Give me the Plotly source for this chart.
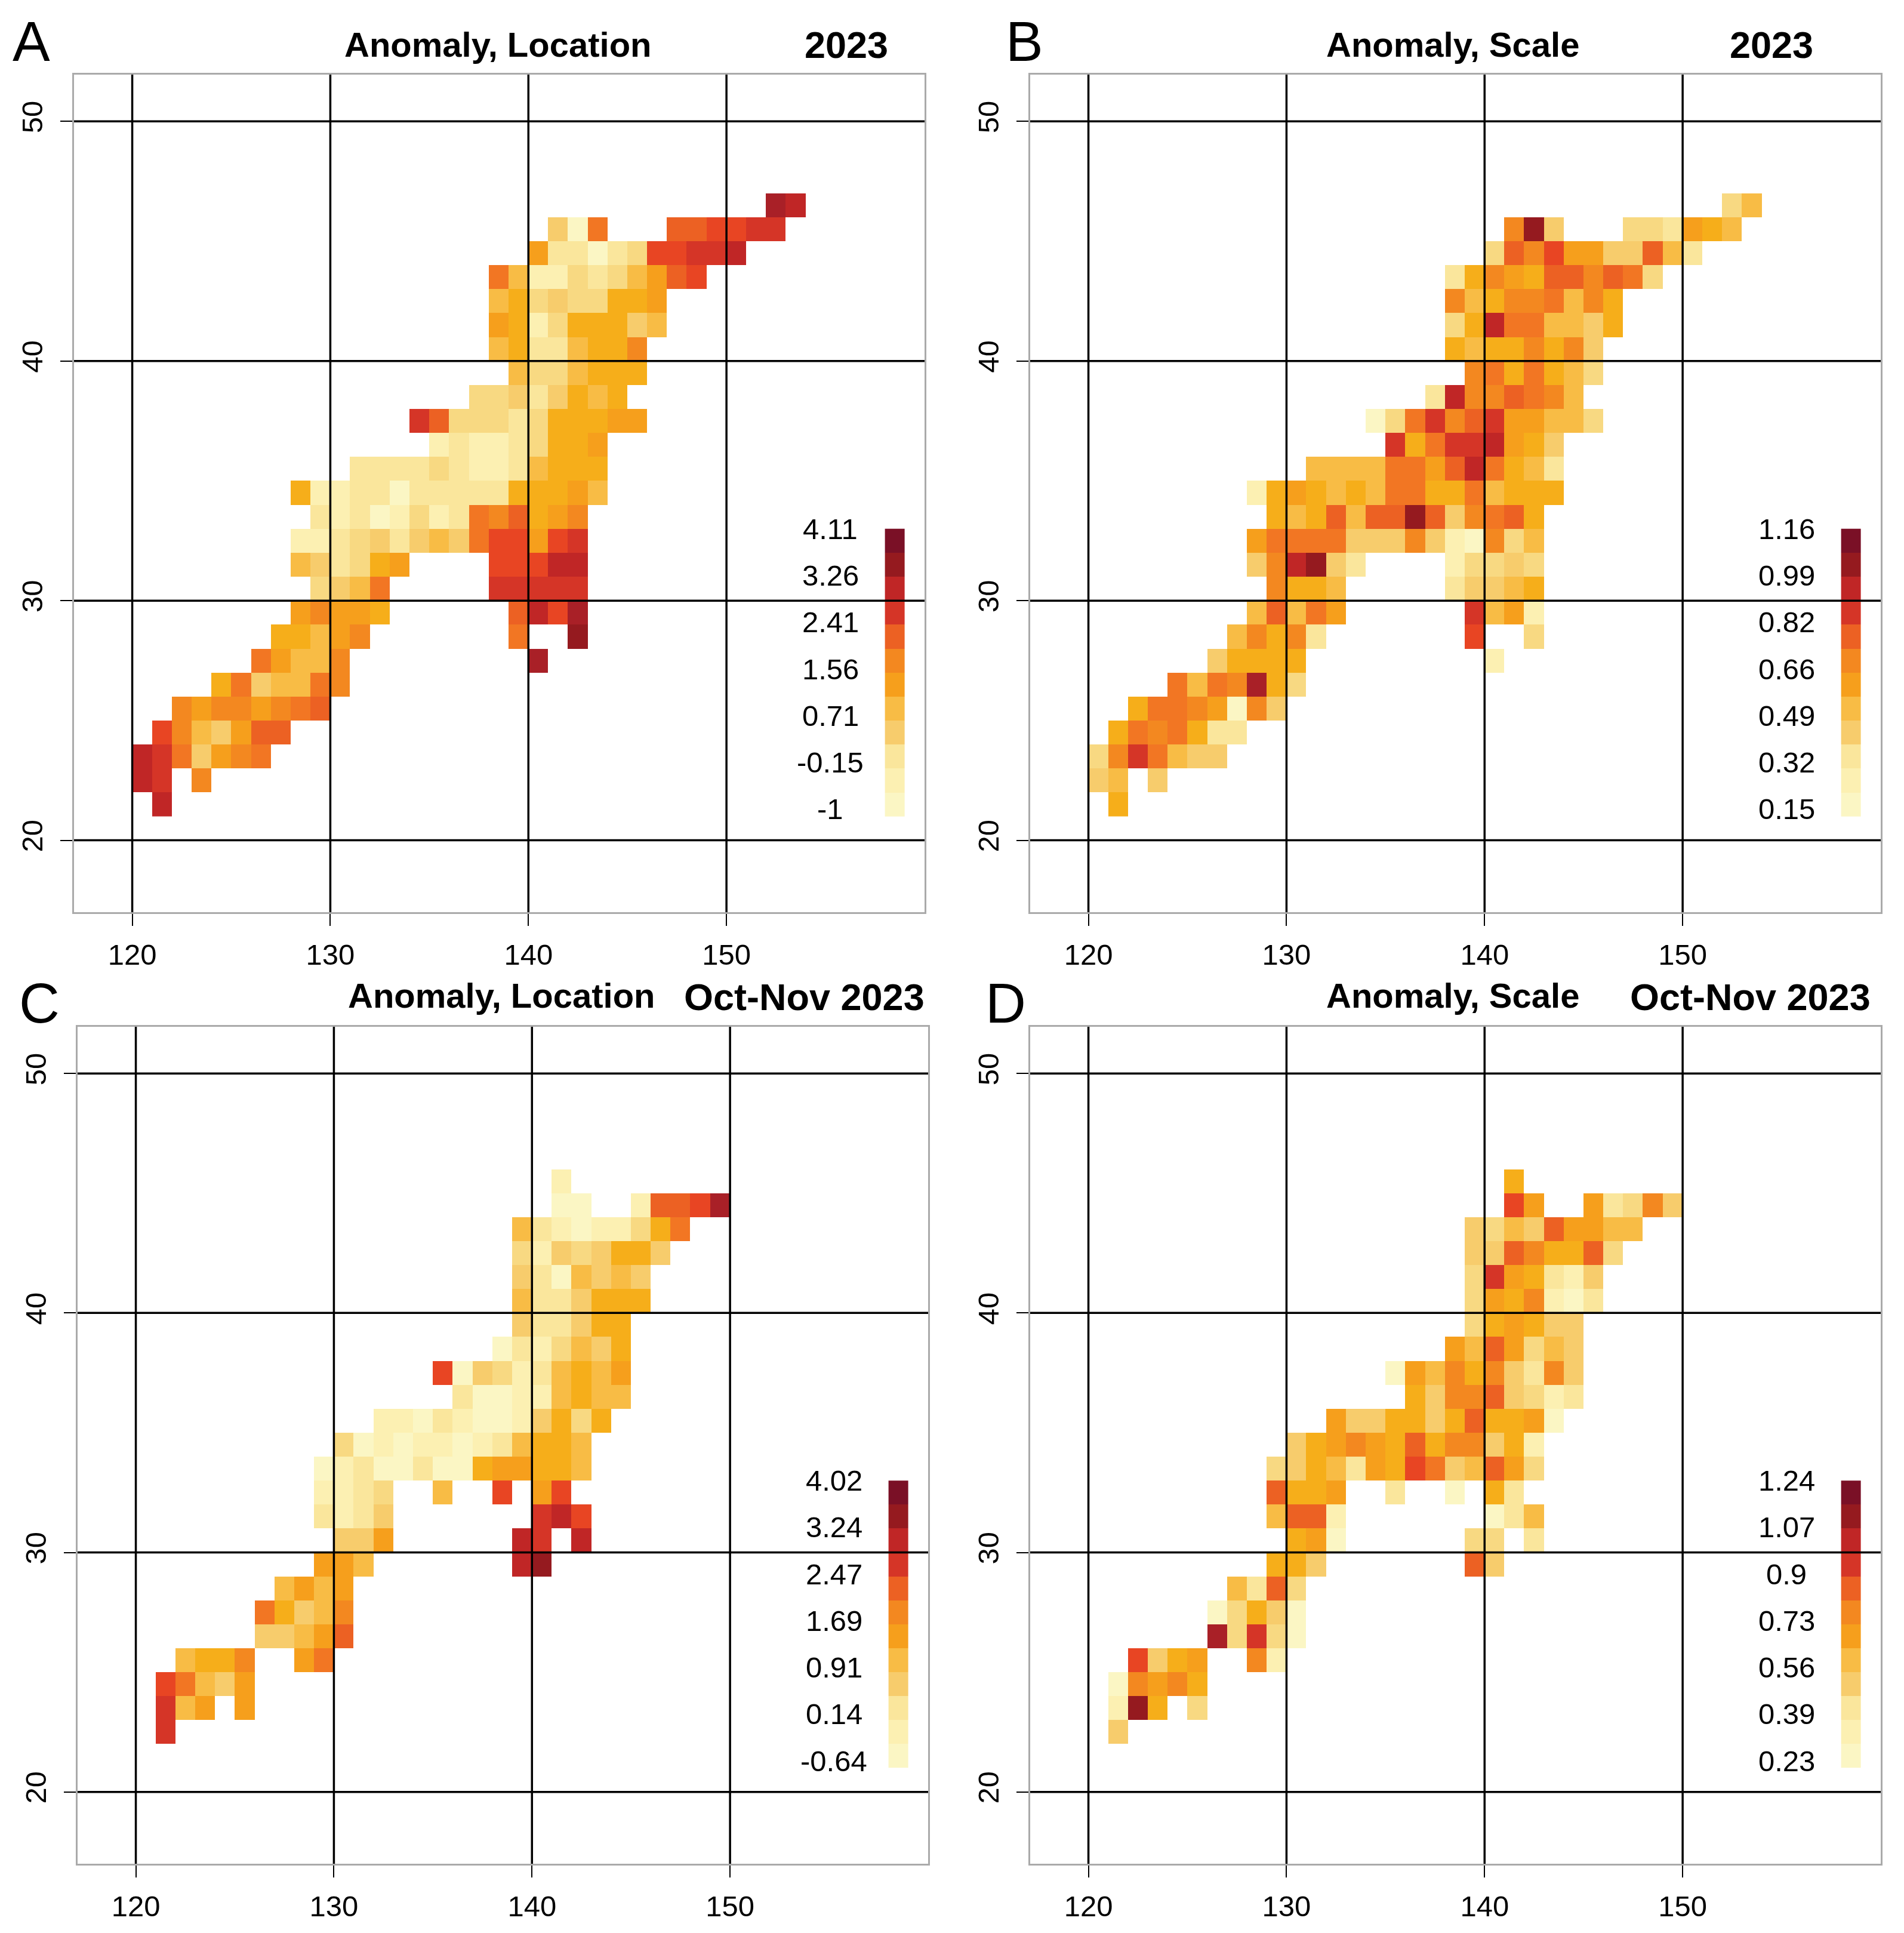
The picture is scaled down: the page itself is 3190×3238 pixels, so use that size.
import plotly.graph_objects as go

W, H = 3190, 3238
FONT = "Liberation Sans"

# colour classes, palest (0) to darkest (16)
class_colors = ["#FBF6C4", "#FCF0B2", "#FAE69C", "#F8D982", "#F7CC6C", "#F8BC45", "#F6AE1A", "#F69F1C", "#F38820",
                "#F27623", "#EC6123", "#E84523", "#D53527", "#C02626", "#A92027", "#951A1F", "#7A1026"]

lon_ticks = [120, 130, 140, 150]
lat_ticks = [20, 30, 40, 50]

# (latitude, first longitude, colour classes of consecutive 1-degree cells)
A_rows = [
    (46, 152, [14, 13]),
    (45, 141, [4, 0, 9]), (45, 147, [10, 10, 11, 11, 12, 12]),
    (44, 140, [7, 2, 2, 0, 2, 3, 11, 11, 12, 12, 13]),
    (43, 138, [9, 5, 1, 1, 3, 2, 3, 5, 7, 10, 11]),
    (42, 138, [5, 6, 3, 4, 3, 3, 6, 6, 7]),
    (41, 138, [7, 6, 1, 3, 6, 6, 6, 4, 5]),
    (40, 138, [5, 6, 2, 2, 5, 6, 6, 8]),
    (39, 139, [5, 3, 3, 5, 6, 6, 6]),
    (38, 137, [3, 3, 4, 2, 4, 6, 5, 6]),
    (37, 134, [12, 10, 3, 3, 3, 2, 3, 6, 6, 6, 7, 7]),
    (36, 135, [1, 2, 1, 1, 2, 3, 6, 6, 7]),
    (35, 131, [2, 2, 2, 2, 3, 2, 1, 1, 2, 5, 6, 6, 6]),
    (34, 128, [6, 1, 1, 2, 2, 0, 2, 2, 2, 2, 2, 6, 6, 6, 7, 5]),
    (33, 129, [2, 1, 2, 0, 1, 3, 1, 2, 9, 8, 10, 6, 7, 8]),
    (32, 128, [1, 1, 2, 3, 4, 2, 4, 5, 4, 9, 11, 11, 7, 11, 12]),
    (31, 128, [5, 4, 2, 3, 6, 7]), (31, 138, [11, 11, 11, 13, 13]),
    (30, 129, [3, 4, 5, 9]), (30, 138, [12, 12, 12, 12, 12]),
    (29, 128, [7, 8, 7, 7, 6]), (29, 139, [10, 13, 11, 14]),
    (28, 127, [6, 6, 5, 7, 8]), (28, 139, [9]), (28, 142, [15]),
    (27, 126, [9, 7, 5, 5, 8]), (27, 140, [14]),
    (26, 124, [6, 9, 4, 5, 5, 9, 8]),
    (25, 122, [8, 7, 8, 8, 7, 8, 9, 10]),
    (24, 121, [11, 8, 5, 4, 7, 10, 10]),
    (23, 120, [13, 12, 9, 4, 7, 8, 9]),
    (22, 120, [13, 12]), (22, 123, [8]),
    (21, 121, [13]),
]
B_rows = [
    (46, 152, [3, 5]),
    (45, 141, [8, 15, 4]), (45, 147, [3, 3, 2, 7, 6, 5]),
    (44, 140, [3, 10, 8, 11, 7, 7, 4, 4, 10, 5, 2]),
    (43, 138, [2, 6, 8, 7, 6, 10, 10, 8, 10, 9, 3]),
    (42, 138, [8, 5, 6, 8, 8, 9, 5, 8, 6]),
    (41, 138, [3, 6, 13, 9, 9, 5, 5, 4, 6]),
    (40, 138, [6, 5, 6, 6, 8, 6, 8, 4]),
    (39, 139, [8, 9, 6, 9, 6, 5, 3]),
    (38, 137, [2, 13, 8, 8, 10, 9, 8, 5]),
    (37, 134, [0, 3, 9, 12, 8, 10, 12, 7, 7, 5, 5, 3]),
    (36, 135, [12, 6, 9, 12, 12, 13, 7, 6, 4]),
    (35, 131, [5, 5, 5, 5, 9, 9, 7, 10, 13, 9, 6, 5, 2]),
    (34, 128, [1, 6, 7, 6, 5, 6, 5, 9, 9, 6, 6, 9, 5, 6, 6, 6]),
    (33, 129, [6, 5, 6, 10, 5, 10, 10, 15, 10, 4, 8, 9, 10, 6]),
    (32, 128, [7, 9, 9, 9, 9, 4, 4, 4, 8, 4, 1, 0, 8, 3, 5]),
    (31, 128, [4, 8, 13, 15, 4, 2]), (31, 138, [1, 3, 3, 4, 3]),
    (30, 129, [8, 6, 6, 5]), (30, 138, [2, 4, 4, 5, 6]),
    (29, 128, [5, 10, 5, 9, 7]), (29, 139, [12, 5, 7, 1]),
    (28, 127, [5, 8, 6, 8, 2]), (28, 139, [11]), (28, 142, [3]),
    (27, 126, [4, 6, 6, 6, 6]), (27, 140, [1]),
    (26, 124, [9, 5, 9, 8, 14, 6, 3]),
    (25, 122, [6, 9, 9, 8, 7, 0, 8, 4]),
    (24, 121, [6, 9, 8, 9, 6, 2, 2]),
    (23, 120, [3, 8, 12, 9, 5, 4, 4]),
    (22, 120, [4, 5]), (22, 123, [4]),
    (21, 121, [6]),
]
C_rows = [
    (45, 141, [1]),
    (44, 141, [0, 0]), (44, 145, [1, 10, 10, 11, 14]),
    (43, 139, [5, 2, 1, 0, 1, 1, 3, 6, 9]),
    (42, 139, [3, 1, 4, 3, 4, 6, 6, 4]),
    (41, 139, [4, 2, 0, 5, 4, 5, 4]),
    (40, 139, [5, 2, 2, 4, 6, 6, 6]),
    (39, 139, [4, 2, 2, 4, 6, 6]),
    (38, 138, [0, 2, 1, 3, 5, 4, 6]),
    (37, 135, [11, 0, 4, 3, 1, 2, 5, 6, 5, 7]),
    (36, 136, [2, 0, 0, 1, 1, 5, 6, 5, 5]),
    (35, 132, [1, 1, 0, 2, 1, 0, 0, 1, 4, 6, 3, 6]),
    (34, 130, [3, 0, 1, 0, 1, 1, 0, 1, 2, 5, 6, 6, 5]),
    (33, 129, [0, 1, 2, 0, 0, 2, 0, 0, 6, 7, 7, 6, 6, 5]),
    (32, 129, [1, 1, 2, 3]), (32, 135, [5]), (32, 138, [11]), (32, 140, [7, 11]),
    (31, 129, [2, 1, 2, 4]), (31, 140, [12, 13, 11]),
    (30, 130, [4, 4, 7]), (30, 139, [13, 12]), (30, 142, [13]),
    (29, 129, [7, 7, 5]), (29, 139, [13, 15]),
    (28, 127, [5, 7, 5, 7]),
    (27, 126, [9, 6, 4, 5, 8]),
    (26, 126, [4, 4, 5, 7, 10]),
    (25, 122, [5, 6, 6, 8]), (25, 128, [7, 9]),
    (24, 121, [11, 9, 5, 4, 7]),
    (23, 121, [12, 5, 7]), (23, 125, [7]),
    (22, 121, [12]),
]
D_rows = [
    (45, 141, [6]),
    (44, 141, [11, 7]), (44, 145, [7, 2, 3, 8, 4]),
    (43, 139, [4, 3, 5, 4, 10, 7, 7, 5, 5]),
    (42, 139, [4, 4, 10, 8, 6, 6, 10, 3]),
    (41, 139, [3, 12, 7, 6, 2, 1, 4]),
    (40, 139, [3, 7, 6, 8, 1, 0, 2]),
    (39, 139, [3, 6, 7, 6, 4, 4]),
    (38, 138, [7, 5, 10, 7, 3, 5, 4]),
    (37, 135, [0, 7, 5, 8, 6, 8, 4, 2, 8, 4]),
    (36, 136, [6, 4, 8, 8, 10, 4, 3, 1, 2]),
    (35, 132, [7, 4, 4, 6, 6, 4, 6, 10, 6, 6, 7, 0]),
    (34, 130, [4, 6, 7, 8, 7, 6, 10, 6, 8, 8, 4, 6, 1]),
    (33, 129, [3, 4, 6, 5, 2, 7, 6, 11, 9, 4, 5, 10, 7, 3]),
    (32, 129, [10, 6, 6, 7]), (32, 135, [2]), (32, 138, [0]), (32, 140, [6, 2]),
    (31, 129, [5, 10, 10, 1]), (31, 140, [0, 2, 5]),
    (30, 130, [6, 7, 0]), (30, 139, [3, 3]), (30, 142, [2]),
    (29, 129, [6, 6, 4]), (29, 139, [10, 4]),
    (28, 127, [5, 2, 10, 3]),
    (27, 126, [0, 3, 6, 4, 0]),
    (26, 126, [14, 3, 12, 3, 0]),
    (25, 122, [11, 4, 6, 7]), (25, 128, [8, 1]),
    (24, 121, [0, 8, 7, 8, 6]),
    (23, 121, [1, 15, 6]), (23, 125, [3]),
    (22, 121, [4]),
]

# colour classes of the twelve legend boxes, bottom to top
legend_classes = [0, 1, 2, 4, 5, 7, 8, 10, 12, 13, 15, 16]
A_legend = ["-1", "-0.15", "0.71", "1.56", "2.41", "3.26", "4.11"]
B_legend = ["0.15", "0.32", "0.49", "0.66", "0.82", "0.99", "1.16"]
C_legend = ["-0.64", "0.14", "0.91", "1.69", "2.47", "3.24", "4.02"]
D_legend = ["0.23", "0.39", "0.56", "0.73", "0.9", "1.07", "1.24"]

n = len(class_colors)
colorscale = []
for i, c in enumerate(class_colors):
    colorscale += [[i / n, c], [(i + 1) / n, c]]

LON = list(range(120, 160))
LAT = list(range(21, 48))


def grid(rows):
    z = [[None] * len(LON) for _ in LAT]
    for lat, lon, vals in rows:
        for k, v in enumerate(vals):
            z[lat - LAT[0]][lon + k - LON[0]] = v
    return z


panels = [
    dict(letter="A", rows=A_rows, legend=A_legend, box=(124, 1549, 125, 1528), title="Anomaly, Location", when="2023",
         lpos=(52, 70), tpos=(834, 74), wpos=(1418, 75)),
    dict(letter="B", rows=B_rows, legend=B_legend, box=(1726, 3151, 125, 1528), title="Anomaly, Scale", when="2023",
         lpos=(1716, 70), tpos=(2434, 74), wpos=(2968, 75)),
    dict(letter="C", rows=C_rows, legend=C_legend, box=(130, 1555, 1720, 3122), title="Anomaly, Location",
         when="Oct-Nov 2023", lpos=(66, 1681), tpos=(841, 1668), wpos=(1347, 1670)),
    dict(letter="D", rows=D_rows, legend=D_legend, box=(1726, 3151, 1720, 3122), title="Anomaly, Scale",
         when="Oct-Nov 2023", lpos=(1685, 1681), tpos=(2434, 1668), wpos=(2932, 1670)),
]

fig = go.Figure()
layout = dict(width=W, height=H, autosize=False, margin=dict(l=0, r=0, t=0, b=0), paper_bgcolor="white",
              plot_bgcolor="white", showlegend=False, font=dict(family=FONT, color="black"))
annotations, shapes = [], []


def page_text(text, pos, size):
    annotations.append(dict(text=text, x=pos[0] / W, y=1 - pos[1] / H, xref="paper", yref="paper", showarrow=False,
                            xanchor="center", yanchor="middle", font=dict(size=size, family=FONT, color="black")))


for i, p in enumerate(panels, start=1):
    xa, ya = ("x", "y") if i == 1 else (f"x{i}", f"y{i}")
    L, R, T, B = p["box"]
    layout[f"xaxis{i}"] = dict(domain=[L / W, R / W], range=[117.06, 160], anchor=ya, tickmode="array",
                               tickvals=lon_ticks, ticktext=[str(v) for v in lon_ticks], ticks="outside", ticklen=20,
                               tickwidth=2, tickcolor="black", showgrid=False, zeroline=False, showline=True,
                               mirror=True, linecolor="#AAAAAA", linewidth=3, tickfont=dict(size=49, family=FONT),
                               ticklabelstandoff=6)
    layout[f"yaxis{i}"] = dict(domain=[1 - B / H, 1 - T / H], range=[17, 51.95], anchor=xa, tickmode="array",
                               tickvals=lat_ticks, ticktext=[str(v) for v in lat_ticks], ticks="outside", ticklen=20,
                               tickwidth=2, tickcolor="black", showgrid=False, zeroline=False, showline=True,
                               mirror=True, linecolor="#AAAAAA", linewidth=3, tickfont=dict(size=49, family=FONT),
                               tickangle=-90, ticklabelstandoff=10)
    fig.add_trace(go.Heatmap(x=[v + 0.5 for v in LON], y=[v + 0.5 for v in LAT], z=grid(p["rows"]),
                             colorscale=colorscale, zmin=-0.5, zmax=n - 0.5, showscale=False, hoverongaps=False,
                             xaxis=xa, yaxis=ya))
    fig.add_trace(go.Heatmap(x=[158.5], y=[21.5 + k for k in range(len(legend_classes))],
                             z=[[v] for v in legend_classes], colorscale=colorscale, zmin=-0.5, zmax=n - 0.5,
                             showscale=False, xaxis=xa, yaxis=ya))
    for v in lon_ticks:
        shapes.append(dict(type="line", xref=xa, yref=f"{ya} domain", x0=v, x1=v, y0=0, y1=1, layer="above",
                           line=dict(color="black", width=3.5)))
    for v in lat_ticks:
        shapes.append(dict(type="line", xref=f"{xa} domain", yref=ya, x0=0, x1=1, y0=v, y1=v, layer="above",
                           line=dict(color="black", width=3.5)))
    for k, label in enumerate(p["legend"]):
        annotations.append(dict(text=label, x=155.25, y=21.3 + k * 1.95, xref=xa, yref=ya, showarrow=False,
                                xanchor="center", yanchor="middle", font=dict(size=49, family=FONT, color="black")))
    page_text(p["letter"], p["lpos"], 94)
    page_text(f"<b>{p['title']}</b>", p["tpos"], 58)
    page_text(f"<b>{p['when']}</b>", p["wpos"], 63)

layout["annotations"] = annotations
layout["shapes"] = shapes
fig.update_layout(**layout)
fig.write_html("out.html", post_script="document.body.style.margin='0';", config={"displayModeBar": False})
